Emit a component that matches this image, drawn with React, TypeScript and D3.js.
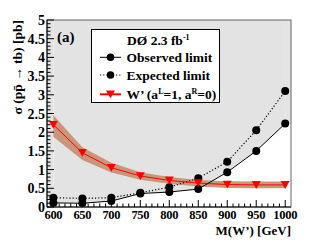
import * as d3 from 'd3'

const W = 315
const H = 244
const X0 = 47
const X1 = 291
const Y0 = 207
const Y1 = 20

const masses = [600, 650, 700, 750, 800, 850, 900, 950, 1000]
const observed = [0.11, 0.1, 0.16, 0.36, 0.4, 0.48, 0.93, 1.5, 2.23]
const expected = [0.25, 0.23, 0.25, 0.38, 0.53, 0.77, 1.21, 2.05, 3.1]
const theory = [2.2, 1.45, 1.05, 0.83, 0.71, 0.64, 0.6, 0.59, 0.59]
const theoryLow = [1.88, 1.26, 0.92, 0.73, 0.62, 0.55, 0.51, 0.5, 0.5]
const theoryHigh = [2.45, 1.6, 1.18, 0.93, 0.8, 0.72, 0.69, 0.68, 0.68]
const yTicks = [0, 0.5, 1, 1.5, 2, 2.5, 3, 3.5, 4, 4.5, 5]
const xTicks = [600, 650, 700, 750, 800, 850, 900, 950, 1000]

const FONT = 'Liberation Serif, Tinos, Times New Roman, serif'

export default function App() {
  const x = d3.scaleLinear().domain([589, 1010]).range([X0, X1])
  const y = d3.scaleLinear().domain([0, 5]).range([Y0, Y1])

  const line = d3
    .line<number>()
    .x((_, i) => x(masses[i]))
    .y((v) => y(v))

  // gray excluded region above the observed curve
  const excl = d3
    .area<number>()
    .x((_, i) => x(masses[i]))
    .y0(y(5))
    .y1((v) => y(v))
  const band = d3
    .area<number>()
    .x((_, i) => x(masses[i]))
    .y0((_, i) => y(theoryLow[i]))
    .y1((v) => y(v))

  const minorY = d3.range(0, 5.001, 0.1)
  const minorX = d3.range(600, 1010, 10)

  const tri = (cx: number, cy: number, s: number) =>
    `M${cx - s},${cy - s * 0.85}L${cx + s},${cy - s * 0.85}L${cx},${cy + s * 0.9}Z`

  const txt = { fontFamily: FONT, fontWeight: 'bold' as const }

  return (
    <svg width={W} height={H} style={{ position: 'absolute', left: 0, top: 0 }}>
      <rect x={0} y={0} width={W} height={H} fill="#fff" />
      <path d={excl(observed) ?? ''} fill="#e3e3e3" />
      {/* extend gray to frame edges */}
      <rect x={X0} y={Y1} width={x(600) - X0} height={y(observed[0]) - Y1} fill="#e3e3e3" />
      <rect x={x(1000)} y={Y1} width={X1 - x(1000)} height={y(observed[8]) - Y1} fill="#e3e3e3" />
      <path d={band(theoryHigh) ?? ''} fill="#c8967a" />
      <path d={line(theory) ?? ''} fill="none" stroke="#ff0000" strokeWidth={1} />
      <path d={line(expected) ?? ''} fill="none" stroke="#000" strokeWidth={1.2} strokeDasharray="1.2,2" />
      <path d={line(observed) ?? ''} fill="none" stroke="#000" strokeWidth={1} />
      {masses.map((m, i) => (
        <g key={m}>
          <circle cx={x(m)} cy={y(expected[i])} r={4} fill="#000" />
          <circle cx={x(m)} cy={y(observed[i])} r={4} fill="#000" />
          <path d={tri(x(m), y(theory[i]), 4.5)} fill="#ff0000" />
        </g>
      ))}

      {/* frame */}
      <rect x={X0} y={Y1} width={X1 - X0} height={Y0 - Y1} fill="none" stroke="#666" strokeWidth={1} />
      <line x1={X0} x2={X0} y1={Y1} y2={Y0} stroke="#000" strokeWidth={1} />
      <line x1={X0} x2={X1} y1={Y0} y2={Y0} stroke="#000" strokeWidth={1} />
      {minorY.map((t) => {
        const major = Math.abs(t * 2 - Math.round(t * 2)) < 1e-6
        return <line key={`my${t}`} x1={X0} x2={X0 + (major ? 7 : 3.5)} y1={y(t)} y2={y(t)} stroke="#000" />
      })}
      {minorX.map((t) => (
        <line key={`mx${t}`} x1={x(t)} x2={x(t)} y1={Y0} y2={Y0 - (t % 50 === 0 ? 7 : 3.5)} stroke="#000" />
      ))}
      {yTicks.map((t) => (
        <text key={`y${t}`} x={X0 - 2} y={y(t) + 5} textAnchor="end" fontSize={14} {...txt}>
          {t}
        </text>
      ))}
      {xTicks.map((t) => (
        <text key={`x${t}`} x={x(t)} y={Y0 + 12} textAnchor="middle" fontSize={12.5} letterSpacing={-0.3} {...txt}>
          {t}
        </text>
      ))}
      <text x={X1} y={235} textAnchor="end" fontSize={13} {...txt}>
        M(W’) [GeV]
      </text>
      <text transform={`translate(22,${Y1}) rotate(-90)`} textAnchor="end" fontSize={13.5} {...txt}>
        σ (pp̄ → tb) [pb]
      </text>
      <text x={57} y={42} fontSize={15} {...txt}>(a)</text>

      {/* legend */}
      <rect x={91.5} y={29.5} width={128} height={73} fill="#fff" stroke="#000" strokeWidth={1} />
      <text x={127} y={45} fontSize={13.5} {...txt}>
        DØ 2.3 fb<tspan dy={-5} fontSize={8}>-1</tspan>
      </text>
      <line x1={100} x2={121} y1={57.3} y2={57.3} stroke="#000" />
      <circle cx={110.5} cy={57.3} r={3.8} fill="#000" />
      <text x={126.5} y={62} fontSize={13.5} {...txt}>Observed limit</text>
      <line x1={100} x2={121} y1={75} y2={75} stroke="#000" strokeDasharray="1.2,2" strokeWidth={1.2} />
      <circle cx={110.5} cy={75} r={3.8} fill="#000" />
      <text x={126.5} y={79.5} fontSize={13.5} {...txt}>Expected limit</text>
      <line x1={100} x2={121} y1={94.3} y2={94.3} stroke="#ff0000" strokeWidth={2} />
      <path d={tri(110.5, 94.3, 4.5)} fill="#ff0000" />
      <text x={126.5} y={98.5} fontSize={13.5} {...txt}>
        W’ (a<tspan dy={-5} fontSize={8}>L</tspan>
        <tspan dy={5}>=1, a</tspan>
        <tspan dy={-5} fontSize={8}>R</tspan>
        <tspan dy={5}>=0)</tspan>
      </text>
    </svg>
  )
}
